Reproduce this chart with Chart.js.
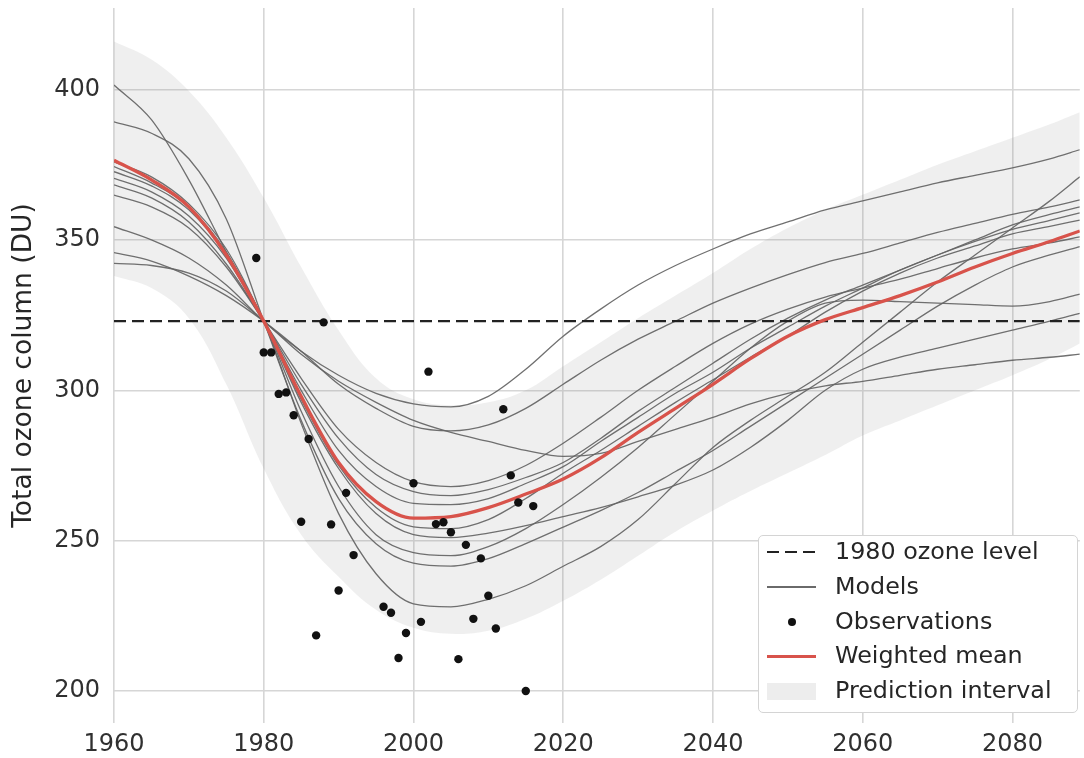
<!DOCTYPE html>
<html><head><meta charset="utf-8">
<script src="https://cdn.jsdelivr.net/npm/chart.js@4.4.1/dist/chart.umd.min.js"></script>
<style>
html,body{margin:0;padding:0;background:#fff;}
#wrap{position:relative;width:1084px;height:758px;overflow:hidden;}
canvas{display:block;}
#legend{position:absolute;left:758px;top:535px;width:318px;height:176px;background:#fff;border:1.5px solid #d4d4d4;border-radius:5px;font-family:"DejaVu Sans",sans-serif;font-size:23.8px;color:#262626;}
.item{position:absolute;left:0;width:100%;height:0;}
.sw{position:absolute;left:8px;width:49px;}
.lbl{position:absolute;left:76px;top:0;transform:translateY(-52%);white-space:nowrap;line-height:1;}
</style></head>
<body>
<div id="wrap">
<canvas id="c" width="1084" height="758"></canvas>
<div id="legend">
 <div class="item" style="top:16px"><div class="sw" style="top:-1.2px;height:2.5px;background:repeating-linear-gradient(to right,#222 0 12px,transparent 12px 18px);"></div><div class="lbl">1980 ozone level</div></div>
 <div class="item" style="top:51px"><div class="sw" style="top:-0.7px;height:1.5px;background:#6a6a6a;"></div><div class="lbl">Models</div></div>
 <div class="item" style="top:86px"><div class="sw" style="left:29px;width:8px;height:8px;top:-4px;border-radius:50%;background:#111;"></div><div class="lbl">Observations</div></div>
 <div class="item" style="top:120px"><div class="sw" style="top:-1.5px;height:3px;background:#d8534b;"></div><div class="lbl">Weighted mean</div></div>
 <div class="item" style="top:155px"><div class="sw" style="top:-8.5px;height:17px;background:#ededed;"></div><div class="lbl">Prediction interval</div></div>
</div>
</div>
<script>
// ---- data ----
const years = [1960,1965,1970,1975,1980,1985,1990,1995,2000,2005,2010,2015,2020,2025,2030,2035,2040,2045,2050,2055,2060,2065,2070,2075,2080,2085,2089];

const weightedMean = [376.5,370,361,345,323,298,276,263,257.5,258,261,265.5,270.5,277.5,286,294,302,310.5,318,323.5,327.5,331.5,336,341,345.5,349.5,353];

const modelA = [354.4,350,344,335,323,313,305,299,295.5,294.5,298,307,318,327,335,341.5,347,352,356,360,363,366,369,371.5,374,377,380];
const modelB = [345.8,343,338,331.5,323,313,302,294,288,286.5,288.5,294,302,310,317,323,329,334,338.5,342.5,345.5,349,352.5,355.5,358.5,361,363.3];
const modelC = [342.2,341.5,339,333,323,312,303,296,290,286,283,280,278,279,283,287,291,295.5,299,301.5,303,305,307,308.5,310,311,312];
const modelD = [401.5,390,370,346,323,289,259,239,229,228,230.5,235,241.5,248,257,269,281,290,298,306,316,326,336,345,354,363,371];
const modelE = [389.3,385.5,377,357,323,290,264,249,242.5,241.5,244,249,254.5,260,266,273,280,288,296,304,312,320,328,335,341,345,347.8];
const modelF = [376,371,362,347,323,293,268,252,246,245,248,254,262,271,281,292,303,314,323,329,330,329.5,329,328.5,328,329.5,332];
const modelG = [374.4,369,361,346,323,296,274,259,252,251,252.5,255,258,261,264.6,268.5,273.5,281,290,300,307,311,314,317,320,323,325.6];
const modelH = [372.7,368,360,345,323,297,275,261,254.6,254,257,264,272.4,280,288,296,303.5,311,318,326,333,339,344,348,352,354.5,356.6];
const modelI = [370.5,366,358,344,323,300,280,268,262.4,262,264,269,274.6,283,291,299,306,314,321,328,334,340,345,349.5,353.5,356.5,359];
const modelJ = [368.3,364,356,342,323,302,284,272,266.3,265,267,271,276,284,293,301,309,317,324,330,335,340,345,350,355,358.5,361];
const modelK = [364.9,361,354,341,323,304,287,276,269.6,268,270,275,282.4,291,300,308,315.6,322,327,331,334,337,340.5,344,347,349,351];

const intervalUpper = [416,410,399.5,384,364,341,320,304,297,295,296,300,308,316,324,331.5,339,347,354,360,365,370,375,379.5,384,388.5,392.5];
const intervalLower = [338,334,324,302,274,252,238,227,221,219,220,224,230,237,245,253,260,266.5,272.5,278.5,285,290,295,300,305,310.5,315.6];

const obsYears  = [1979,1980,1981,1982,1983,1984,1985,1986,1987,1988,1989,1990,1991,1992,1996,1997,1998,1999,2000,2001,2002,2003,2004,2005,2006,2007,2008,2009,2010,2011,2012,2013,2014,2015,2016];
const obsValues = [344,312.6,312.6,298.8,299.3,291.7,256.3,283.8,218.5,322.6,255.4,233.4,265.9,245.2,228,226,211,219.3,269.1,223,306.2,255.5,256.1,252.8,210.6,248.6,224,244.1,231.7,220.8,293.7,271.7,262.7,200,261.5];

const ozone1980 = 323;
const xTicks = [1960,1980,2000,2020,2040,2060,2080];
const yTicks = [200,250,300,350,400];

// ---- chart ----
const pts = vals => years.map((t,i)=>({x:t,y:vals[i]}));
const models = [modelA,modelB,modelC,modelD,modelE,modelF,modelG,modelH,modelI,modelJ,modelK];

const datasets = [
  {label:'Observations', data: obsYears.map((t,i)=>({x:t,y:obsValues[i]})), showLine:false,
   pointRadius:4.2, pointHoverRadius:4.2, pointBackgroundColor:'#111', pointBorderWidth:0, order:0},
  {label:'Weighted mean', data: pts(weightedMean), borderColor:'#d8534b', borderWidth:3.3, pointRadius:0,
   cubicInterpolationMode:'monotone', order:1},
  {label:'1980 ozone level', data:[{x:xTicks[0],y:ozone1980},{x:2089,y:ozone1980}], borderColor:'#222', borderWidth:2.2,
   borderDash:[12,6], pointRadius:0, order:2},
  ...models.map((m,k)=>({label:'Model '+(k+1), data: pts(m), borderColor:'rgba(100,100,100,0.92)', borderWidth:1.3,
   pointRadius:0, cubicInterpolationMode:'monotone', order:3})),
  {label:'lower', data: pts(intervalLower), borderColor:'rgba(0,0,0,0)', borderWidth:1, pointRadius:0, fill:false,
   tension:0.4, order:5},
  {label:'Prediction interval', data: pts(intervalUpper), borderColor:'rgba(0,0,0,0)', borderWidth:1, pointRadius:0,
   fill:'-1', backgroundColor:'rgba(135,135,135,0.13)', tension:0.4, order:4}
];

const tickFont = {family:'DejaVu Sans', size:24};
const noPad = s => { s.paddingTop = 0; s.paddingBottom = 0; s.paddingLeft = 0; s.paddingRight = 0; };
new Chart(document.getElementById('c'), {
  type:'line',
  data:{datasets},
  options:{
    animation:false, responsive:false, devicePixelRatio:1,
    layout:{padding:{top:8,right:0,left:0,bottom:0}},
    plugins:{legend:{display:false}, tooltip:{enabled:false}},
    elements:{line:{tension:0}},
    scales:{
      x:{type:'linear', min:1960, max:2089,
        afterBuildTicks:s=>{s.ticks = xTicks.map(v=>({value:v}));},
        afterFit:s=>{s.height = 35; noPad(s);},
        grid:{color:'#d6d6d6', lineWidth:1.6, drawTicks:false},
        border:{display:false},
        ticks:{padding:7, color:'#303030', font:tickFont, maxRotation:0, autoSkip:false, callback:v=>String(v)}},
      y:{type:'linear', min:189.36, max:427.14,
        afterBuildTicks:s=>{s.ticks = yTicks.map(v=>({value:v}));},
        afterFit:s=>{s.width = 114; noPad(s);},
        grid:{color:'#d6d6d6', lineWidth:1.6, drawTicks:false},
        border:{display:false},
        ticks:{padding:14, color:'#303030', font:tickFont, callback:v=>String(v)},
        title:{display:true, text:'Total ozone column (DU)', color:'#262626',
          font:{family:'DejaVu Sans', size:26.5}, padding:{top:8,bottom:0}}}
    }
  }
});
</script>
</body></html>
